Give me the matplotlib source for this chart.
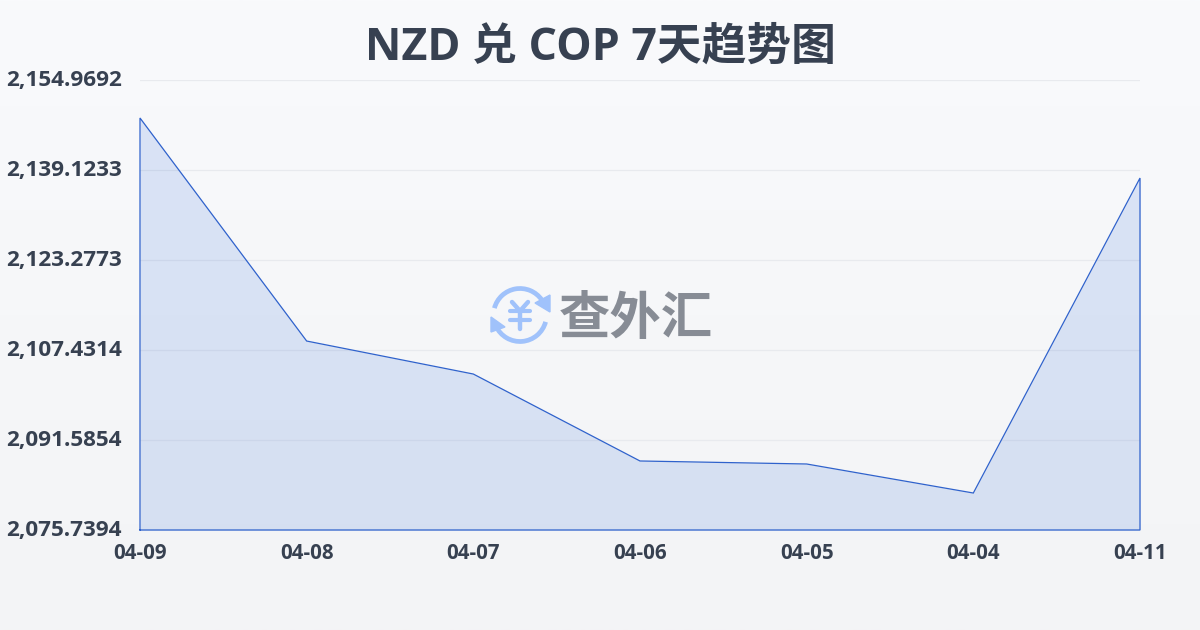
import numpy as np
import matplotlib
matplotlib.use('Agg')
import matplotlib.pyplot as plt
from matplotlib.patches import Arc, Polygon
from matplotlib.transforms import ScaledTranslation

plt.rcParams['font.family'] = ['Open Sans', 'Noto Sans CJK SC', 'DejaVu Sans']

dates = ['04-09', '04-08', '04-07', '04-06', '04-05', '04-04', '04-11']
rates = [2148.28, 2109.01, 2103.20, 2087.89, 2087.36, 2082.25, 2137.71]
y_ticks = [2075.7394, 2091.5854, 2107.4314, 2123.2773, 2139.1233, 2154.9692]
title = 'NZD 兑 COP 7天趋势图'
logo_text = '查外汇'

W, H = 1200, 630
fig = plt.figure(figsize=(W / 100, H / 100), dpi=100)

# background gradient, whole figure
bg = fig.add_axes([0, 0, 1, 1], zorder=0)
grad = np.linspace(0, 1, 256).reshape(-1, 1, 1)
top = np.array([249, 250, 252]) / 255
bottom = np.array([243, 244, 246]) / 255
bg.imshow(top + (bottom - top) * grad, aspect='auto', extent=[0, W, H, 0])
bg.set_xlim(0, W)
bg.set_ylim(H, 0)
bg.axis('off')

# plot area 140..1140 x 80..530 px
ax = fig.add_axes([140 / W, 1 - 530 / H, 1000 / W, 450 / H], zorder=1)
ax.patch.set_alpha(0)
x = np.arange(len(dates))
ax.fill_between(x, rates, y_ticks[0], color='#2563d8', alpha=0.14, lw=0)
ax.plot(np.r_[x[0], x, x[-1], x[0]], np.r_[y_ticks[0], rates, y_ticks[0], y_ticks[0]],
        color='#2f62cc', lw=0.9, solid_joinstyle='miter', clip_on=False)
ax.set_xlim(0, len(dates) - 1)
ax.set_ylim(y_ticks[0], y_ticks[-1])
ax.set_xticks(x, dates)
ax.set_yticks(y_ticks, [f'{v:,.4f}' for v in y_ticks])
ax.grid(axis='y', color='#e8eaee', lw=0.9)
ax.set_axisbelow(True)
for s in ax.spines.values():
    s.set_visible(False)
ax.tick_params(axis='x', length=0, pad=9.5, labelsize=14.8, labelcolor='#374151')
ax.tick_params(axis='y', length=0, pad=13, labelsize=16.2, labelcolor='#374151')
for t in ax.get_xticklabels() + ax.get_yticklabels():
    t.set_fontweight('bold')
# y labels sit a little above their grid lines
for t in ax.get_yticklabels():
    t.set_transform(t.get_transform() + ScaledTranslation(0, 2 / 100, fig.dpi_scale_trans))

fig.text(0.5, 1 - 48 / H, title, ha='center', va='center', fontsize=32.2,
         fontweight='bold', color='#374151')

# watermark logo, drawn on top in pixel coordinates
ov = fig.add_axes([0, 0, 1, 1], zorder=2)
ov.set_xlim(0, W)
ov.set_ylim(H, 0)
ov.axis('off')
ov.patch.set_alpha(0)
blue = '#a0c2fb'
cx, cy = 520, 315
ov.add_patch(Arc((cx, cy), 53, 53, theta1=195, theta2=325, color=blue, lw=3.4))
ov.add_patch(Arc((cx, cy), 53, 53, theta1=15, theta2=155, color=blue, lw=3.4))
ov.add_patch(Polygon([[550, 295], [550, 312], [535, 303]], color=blue))
ov.add_patch(Polygon([[491, 317], [491, 332], [505, 327]], color=blue))
ov.plot([512, 520, 528], [302, 311, 302], color=blue, lw=3.2, solid_capstyle='round')
ov.plot([520, 520], [311, 329], color=blue, lw=3.2, solid_capstyle='round')
ov.plot([510, 530], [311, 311], color=blue, lw=3, solid_capstyle='round')
ov.plot([510, 530], [320, 320], color=blue, lw=3, solid_capstyle='round')
ov.text(636, 321, logo_text, ha='center', va='center', fontsize=37, fontweight='bold',
        color='#878c95')

fig.savefig('out.png', dpi=100)
